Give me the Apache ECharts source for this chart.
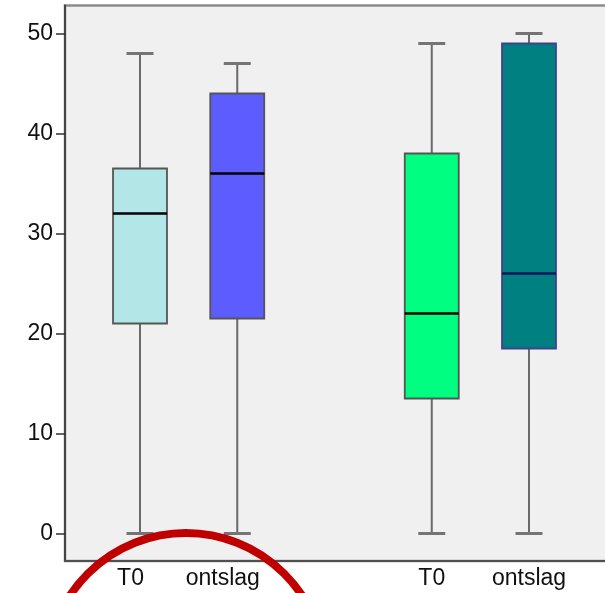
<!DOCTYPE html>
<html>
<head>
<meta charset="utf-8">
<script src="https://cdn.jsdelivr.net/npm/echarts@6/dist/echarts.min.js"></script>
<style>
  html, body { margin: 0; padding: 0; background: #ffffff; }
  #chart { width: 605px; height: 593px; }
</style>
</head>
<body>
<div id="chart"></div>
<script>
// ---- data ----
const categories = ['T0', 'ontslag', '', 'T0', 'ontslag'];   // '' = gap between the two groups
const whiskerMin = [0, 0, null, 0, 0];
const quartile1  = [21, 21.5, null, 13.5, 18.5];
const medians    = [32, 36, null, 22, 26];
const quartile3  = [36.5, 44, null, 38, 49];
const whiskerMax = [48, 47, null, 49, 50];
const yTicks = [0, 10, 20, 30, 40, 50];

// ---- styles ----
const boxFill   = ['#b3e6e6', '#5c5cff', null, '#00ff80', '#008080'];
const boxBorder = ['#555555', '#555555', null, '#555555', '#40408c'];
const medColor  = ['#000000', '#000000', null, '#000000', '#16165a'];
const labelShift = [19, 29, 0, 0, 0];
const textColor = '#111111';

const seriesData = [];
categories.forEach(function (c, i) {
  if (medians[i] == null) return;
  seriesData.push({
    value: [i + 1, whiskerMin[i], quartile1[i], medians[i], quartile3[i], whiskerMax[i]]
  });
});

const chart = echarts.init(document.getElementById('chart'), null, { renderer: 'canvas' });

const rich = {};
labelShift.forEach(function (s, i) {
  rich['l' + i] = {
    fontFamily: 'Liberation Sans', fontSize: 23, color: textColor,
    padding: [0, s, 0, 0]
  };
});

chart.setOption({
  animation: false,
  backgroundColor: '#ffffff',
  grid: {
    left: 65, top: 5.5, right: -3, bottom: 32,
    outerBoundsMode: 'none',
    containLabel: false,
    show: true, backgroundColor: '#f0f0f0',
    borderColor: '#8c8c8c', borderWidth: 2.5
  },
  xAxis: {
    type: 'value',
    min: 0.2288, max: 5.8123,
    splitLine: { show: false },
    axisLine: { show: true, onZero: false, lineStyle: { color: '#505050', width: 2 } },
    axisTick: { show: false },
    axisLabel: {
      customValues: [1, 2, 4, 5],
      margin: 6,
      formatter: function (v) {
        const i = Math.round(v) - 1;
        return '{l' + i + '|' + categories[i] + '}';
      },
      rich: rich
    }
  },
  yAxis: {
    type: 'value',
    min: -2.75, max: 52.8,
    splitLine: { show: false },
    axisLine: { show: true, onZero: false, lineStyle: { color: '#444444', width: 2 } },
    axisTick: { show: true, customValues: yTicks, length: 9, lineStyle: { color: '#333333', width: 1.5 } },
    axisLabel: {
      customValues: yTicks, margin: 12,
      fontFamily: 'Liberation Sans', fontSize: 23, color: textColor
    }
  },
  series: [{
    type: 'custom',
    data: seriesData,
    clip: false,
    renderItem: function (params, api) {
      const x = api.value(0);
      const i = Math.round(x) - 1;
      const pMin = api.coord([x, api.value(1)]);
      const pQ1  = api.coord([x, api.value(2)]);
      const pMed = api.coord([x, api.value(3)]);
      const pQ3  = api.coord([x, api.value(4)]);
      const pMax = api.coord([x, api.value(5)]);
      const bw = api.size([0.555, 0])[0];
      const cw = bw / 2;
      const cx = pMed[0];
      const wStyle = { stroke: '#6a6a6a', lineWidth: 2 };
      const capStyle = { stroke: '#747474', lineWidth: 3 };
      return {
        type: 'group',
        children: [
          { type: 'line', shape: { x1: cx, y1: pMax[1], x2: cx, y2: pQ3[1] }, style: wStyle },
          { type: 'line', shape: { x1: cx, y1: pQ1[1], x2: cx, y2: pMin[1] }, style: wStyle },
          { type: 'line', shape: { x1: cx - cw / 2, y1: pMax[1], x2: cx + cw / 2, y2: pMax[1] }, style: capStyle },
          { type: 'line', shape: { x1: cx - cw / 2, y1: pMin[1], x2: cx + cw / 2, y2: pMin[1] }, style: capStyle },
          { type: 'rect', shape: { x: cx - bw / 2, y: pQ3[1], width: bw, height: pQ1[1] - pQ3[1] },
            style: { fill: boxFill[i], stroke: boxBorder[i], lineWidth: 1.8 } },
          { type: 'line', shape: { x1: cx - bw / 2, y1: pMed[1], x2: cx + bw / 2, y2: pMed[1] },
            style: { stroke: medColor[i], lineWidth: 2.5 } }
        ]
      };
    }
  }],
  graphic: [{
    type: 'circle',
    z: 100,
    shape: { cx: 186, cy: 672, r: 139 },
    style: { fill: 'none', stroke: '#c00000', lineWidth: 8 }
  }]
});
</script>
</body>
</html>
